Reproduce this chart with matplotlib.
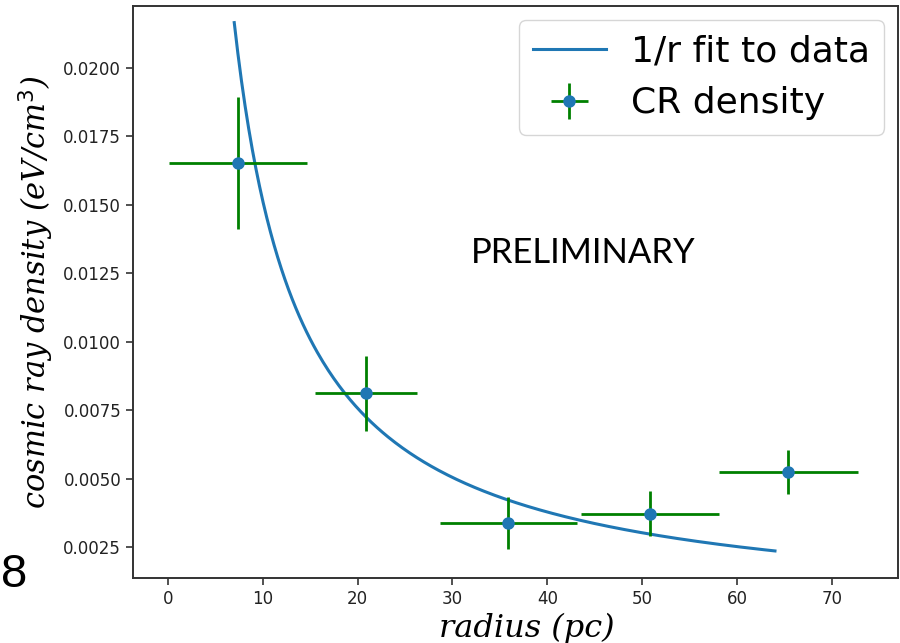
import numpy as np
import matplotlib
matplotlib.use('Agg')
import matplotlib.pyplot as plt

# ── DATA ──────────────────────────────────────────────────────
radius      = [7.4, 20.9, 35.9, 50.8, 65.4]
radius_err  = [7.3, 5.4, 7.2, 7.3, 7.35]
density     = [0.01652, 0.00812, 0.00340, 0.00373, 0.00525]
density_err = [0.00242, 0.00136, 0.00095, 0.00083, 0.00081]

FIT_A     = 0.1515          # density = FIT_A / r
FIT_RANGE = (7.0, 64.0)
# ─────────────────────────────────────────────────────────────

fig = plt.figure(figsize=(9, 6.43), dpi=100)
ax = fig.add_axes([0.1478, 0.1011, 0.85, 0.8896])

r = np.linspace(FIT_RANGE[0], FIT_RANGE[1], 300)
ax.plot(r, FIT_A / r, color='#1f77b4', lw=2.2, label='1/r fit to data')
ax.errorbar(radius, density, xerr=radius_err, yerr=density_err,
            fmt='o', color='#1f77b4', ecolor='green', elinewidth=2,
            markersize=8, label='CR density')

ax.set_xlim(-3.67, 76.97)
ax.set_ylim(0.00138, 0.02225)
ax.set_xticks([0, 10, 20, 30, 40, 50, 60, 70])
ax.set_yticks([0.0025, 0.0050, 0.0075, 0.0100, 0.0125, 0.0150, 0.0175, 0.0200])
ax.yaxis.set_major_formatter(matplotlib.ticker.FormatStrFormatter('%.4f'))
ax.tick_params(labelsize=12, length=5, width=1.2, colors='#333333', labelcolor='#222222')
for sp in ax.spines.values():
    sp.set_color('#333333')
    sp.set_linewidth(1.4)

ax.set_xlabel('radius (pc)', family='DejaVu Serif', style='italic', fontsize=23)
ax.xaxis.set_label_coords(0.515, -0.06, transform=ax.transAxes)
ax.xaxis.label.set_va('top')
ax.set_ylabel('cosmic ray density (eV/cm$^3$)', family='DejaVu Serif', style='italic',
              fontsize=22, labelpad=5)

ax.legend(loc='upper right', fontsize=26, borderaxespad=0.38, handlelength=2.0,
          handletextpad=0.7, framealpha=0.8, edgecolor='#cccccc')

ax.text(0.588, 0.568, 'PRELIMINARY', transform=ax.transAxes, ha='center', va='center',
        family='Lato', fontsize=25, color='black')

fig.text(0.001, 0.105, '8', ha='left', va='center', family='Liberation Sans', fontsize=34)

plt.savefig('out.png', dpi=100)
